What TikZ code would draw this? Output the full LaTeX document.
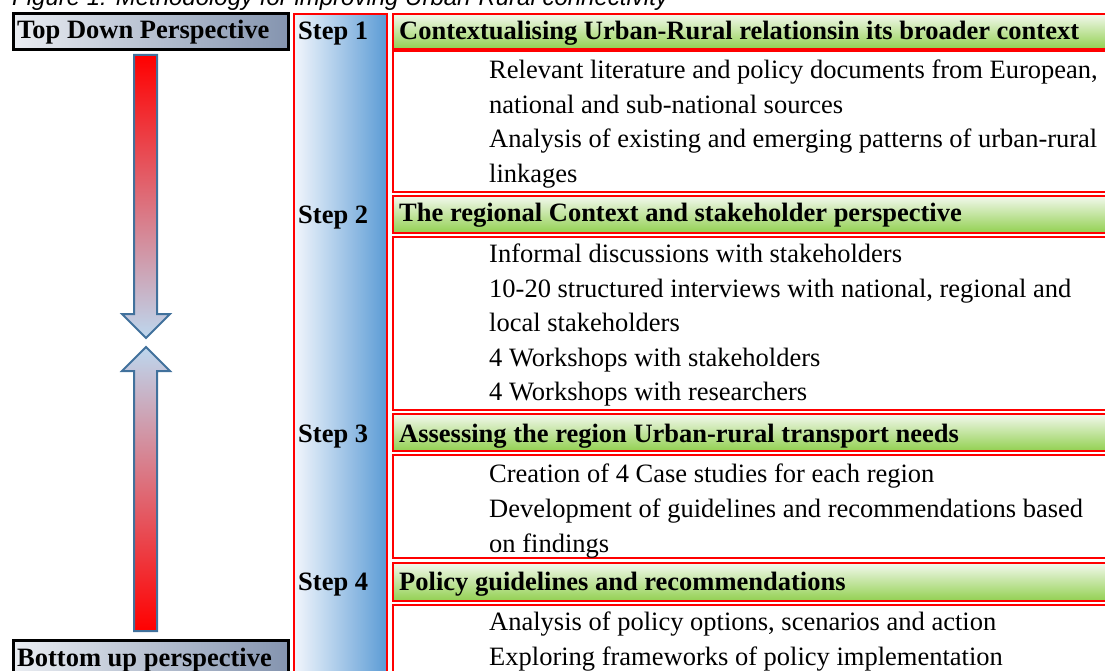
\documentclass[tikz,border=0pt]{standalone}
\usepackage{fontspec}
\setmainfont{Liberation Serif}
\newfontfamily\capfont{Liberation Sans}
\definecolor{hdrtop}{RGB}{242,248,237}
\definecolor{hdrbot}{RGB}{146,208,80}
\definecolor{stepL}{RGB}{242,246,252}
\definecolor{stepR}{RGB}{91,155,213}
\definecolor{persL}{RGB}{234,237,242}
\definecolor{persR}{RGB}{132,148,175}
\definecolor{arrB}{RGB}{65,113,156}
\definecolor{arrL}{RGB}{189,215,238}
\definecolor{arrM}{RGB}{232,90,110}
\begin{document}
\begin{tikzpicture}[x=1pt,y=-1pt,
  box/.style={draw=red, line width=2.2pt, inner sep=0pt, anchor=north west, minimum width=730pt},
  hdr/.style={box, top color=hdrtop, bottom color=hdrbot},
  bodybox/.style={box, fill=white},
  stepcol/.style={draw=red, line width=2.2pt, inner sep=0pt, anchor=north west, left color=stepL, right color=stepR},
  persp/.style={draw=black, line width=3pt, inner sep=0pt, anchor=north west, left color=persL, right color=persR, minimum width=275pt},
  ttl/.style={font=\fontsize{26.5}{30}\selectfont\bfseries, anchor=base west, inner sep=0pt},
  txt/.style={font=\fontsize{26.5}{30}\selectfont, anchor=base west, inner sep=0pt},
  arr/.style={draw=arrB, line width=2pt, line join=miter}
]
\useasboundingbox (0,0) rectangle (1105,671);
\clip (0,0) rectangle (1105,671);

% caption (cut off at the top, as in the source)
\node[font=\capfont\itshape\fontsize{24}{28}\selectfont, anchor=base west, inner sep=0pt] (cap) at (12,6) {Figure 1: Methodology for improving Urban-Rural connectivity};

% perspective boxes
\node[persp, minimum height=36pt] (top) at (12,12) {};
\node[persp, minimum height=50pt] (bot) at (12,639) {};
\node[ttl] (toptxt) at (17,39) {Top Down Perspective};
\node[ttl] (bottxt) at (17,666) {Bottom up perspective};

% arrows
\shadedraw[arr, top color=red, middle color=arrM, bottom color=arrL]
  (134,55) -- (157,55) -- (157,314) -- (170,314) -- (146,338) -- (122,314) -- (134,314) -- cycle;
\shadedraw[arr, top color=arrL, middle color=arrM, bottom color=red]
  (146,347) -- (170,371) -- (157,371) -- (157,631) -- (134,631) -- (134,371) -- (122,371) -- cycle;

% step column
\node[stepcol, minimum width=93pt, minimum height=700pt] (steps) at (293,13) {};
\node[ttl] (s1) at (298,40) {Step 1};
\node[ttl] (s2) at (298,223) {Step 2};
\node[ttl] (s3) at (298,442) {Step 3};
\node[ttl] (s4) at (298,590) {Step 4};

% headers and bodies
\node[hdr, minimum height=35pt] (h1) at (392,13) {};
\node[bodybox, minimum height=141pt] (b1) at (392,50) {};
\node[hdr, minimum height=37pt] (h2) at (392,195) {};
\node[bodybox, minimum height=173pt] (b2) at (392,236) {};
\node[hdr, minimum height=37pt] (h3) at (392,413) {};
\node[bodybox, minimum height=103pt] (b3) at (392,454) {};
\node[hdr, minimum height=38pt] (h4) at (392,562) {};
\node[bodybox, minimum height=100pt] (b4) at (392,604) {};

\node[ttl] (h1t) at (399,39.5) {Contextualising Urban-Rural relationsin its broader context};
\node[ttl] (h2t) at (399,222) {The regional Context and stakeholder perspective};
\node[ttl] (h3t) at (399,442) {Assessing the region Urban-rural transport needs};
\node[ttl] (h4t) at (399,590) {Policy guidelines and recommendations};

\node[txt] (b1a) at (489,79) {Relevant literature and policy documents from European,};
\node[txt] (b1b) at (489,114) {national and sub-national sources};
\node[txt] (b1c) at (489,148) {Analysis of existing and emerging patterns of urban-rural};
\node[txt] (b1d) at (489,183) {linkages};

\node[txt] (b2a) at (489,262.5) {Informal discussions with stakeholders};
\node[txt] (b2b) at (489,297) {10-20 structured interviews with national, regional and};
\node[txt] (b2c) at (489,331.5) {local stakeholders};
\node[txt] (b2d) at (489,366) {4 Workshops with stakeholders};
\node[txt] (b2e) at (489,400.5) {4 Workshops with researchers};

\node[txt] (b3a) at (489,482) {Creation of 4 Case studies for each region};
\node[txt] (b3b) at (489,517) {Development of guidelines and recommendations based};
\node[txt] (b3c) at (489,552) {on findings};

\node[txt] (b4a) at (489,630) {Analysis of policy options, scenarios and action};
\node[txt] (b4b) at (489,665) {Exploring frameworks of policy implementation};
\end{tikzpicture}
\end{document}
